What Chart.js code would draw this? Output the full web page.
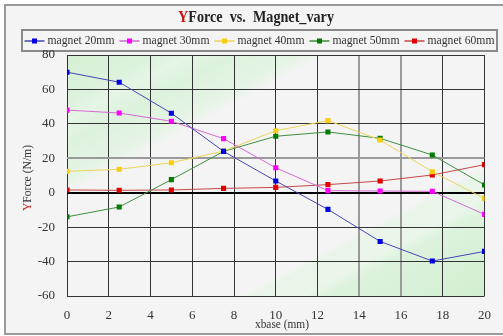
<!DOCTYPE html>
<html>
<head>
<meta charset="utf-8">
<script src="https://cdn.jsdelivr.net/npm/chart.js@4"></script>
<style>
  html, body { margin: 0; padding: 0; background: #fff; }
  #wrap { position: relative; width: 503px; height: 336px; }
</style>
</head>
<body>
<div id="wrap"><canvas id="chart" width="503" height="336"></canvas></div>
<script>
const xbase = [0, 2.5, 5, 7.5, 10, 12.5, 15, 17.5, 20]
const seriesNames = ['magnet 20mm', 'magnet 30mm', 'magnet 40mm', 'magnet 50mm', 'magnet 60mm']
const mag20 = [70, 64.2, 46.2, 24, 6.8, -9.7, -28.3, -39.7, -34.1]
const mag30 = [48, 46.3, 41.5, 31.4, 14.5, 1.2, 1, 0.8, -12.6]
const mag40 = [12.4, 13.6, 17.4, 24.2, 36, 41.9, 30.6, 12.2, -3.3]
const mag50 = [-14, -8.3, 7.6, 24, 32.8, 35.3, 31.6, 21.9, 4.5]
const mag60 = [1.6, 1.4, 1.6, 2.5, 3.1, 4.7, 6.8, 10.3, 16.3]
const xTicks = [0, 2, 4, 6, 8, 10, 12, 14, 16, 18, 20]
const yTicks = [-60, -40, -20, 0, 20, 40, 60, 80]

const lineColors = ['#4646b4', '#d46ad4', '#ecd45a', '#3f8f3f', '#c44848']
const pointColors = ['#0000e0', '#ff00ff', '#f8cc10', '#007a00', '#e00000']
const allSeries = [mag20, mag30, mag40, mag50, mag60]

const serif = '"Liberation Serif", "DejaVu Serif", serif'

const datasets = allSeries.map((vals, i) => ({
  label: seriesNames[i],
  data: vals.map((v, j) => ({ x: xbase[j], y: v })),
  borderColor: lineColors[i],
  backgroundColor: pointColors[i],
  pointBackgroundColor: pointColors[i],
  pointBorderColor: pointColors[i],
  borderWidth: 1,
  pointStyle: 'rect',
  pointRadius: 3.6,
  pointBorderWidth: 0,
  tension: 0
}))

// draw text pieces (each with its colour) squeezed to a target width, starting at x
function squeezed(ctx, parts, x, y, target) {
  const full = parts.map(p => p[0]).join('')
  const sx = target / ctx.measureText(full).width
  ctx.save()
  ctx.translate(x, y)
  ctx.scale(sx, 1)
  ctx.textAlign = 'left'
  let off = 0
  parts.forEach(p => {
    ctx.fillStyle = p[1]
    ctx.fillText(p[0], off, 0)
    off += ctx.measureText(p[0]).width
  })
  ctx.restore()
}

// frame, title, legend and axis titles drawn by hand
const decor = {
  id: 'decor',
  beforeDraw(chart) {
    const ctx = chart.ctx
    const a = chart.chartArea
    ctx.save()
    ctx.fillStyle = '#fff'
    ctx.fillRect(0, 0, 503, 336)
    ctx.fillStyle = '#f4f4f4'
    ctx.fillRect(5, 5, 500, 329)
    ctx.strokeStyle = '#9a9a9a'
    ctx.lineWidth = 2
    ctx.strokeRect(5, 5, 500, 329)

    // diagonal green shading in the plot area
    const ux = 0.47, uy = 0.88
    const p0 = a.left * ux + a.top * uy
    const p1 = a.right * ux + a.bottom * uy
    const k = 1 / (ux * ux + uy * uy)
    const g = ctx.createLinearGradient(ux * p0 * k, uy * p0 * k, ux * p1 * k, uy * p1 * k)
    g.addColorStop(0, '#d4f0d4')
    g.addColorStop(0.1, '#dcf2dc')
    g.addColorStop(0.14, '#e6f5e6')
    g.addColorStop(0.19, '#dcf2dc')
    g.addColorStop(0.27, '#e6f4e6')
    g.addColorStop(0.3, '#f4f4f4')
    g.addColorStop(0.72, '#f4f4f4')
    g.addColorStop(0.735, '#e8f5e8')
    g.addColorStop(0.79, '#eaf6ea')
    g.addColorStop(0.82, '#dcf2dc')
    g.addColorStop(1, '#d2efd2')
    ctx.fillStyle = g
    ctx.fillRect(a.left, a.top, a.right - a.left, a.bottom - a.top)

    ctx.textBaseline = 'middle'

    // title
    ctx.font = 'bold 16px ' + serif
    squeezed(ctx, [['Y', '#cc1111'], ['Force  vs.  Magnet_vary', '#222']], 178, 18, 156)

    // legend box
    ctx.strokeStyle = '#8a8a8a'
    ctx.lineWidth = 2
    ctx.strokeRect(22, 30, 475, 21)
    ctx.font = '13px ' + serif
    const mark = 20, gap = 3, textW = 67, itemGap = 5
    const total = seriesNames.length * (mark + gap + textW) + itemGap * (seriesNames.length - 1)
    let lx = 259.5 - total / 2
    seriesNames.forEach((n, i) => {
      ctx.strokeStyle = lineColors[i]
      ctx.lineWidth = 1.5
      ctx.beginPath()
      ctx.moveTo(lx, 41)
      ctx.lineTo(lx + mark, 41)
      ctx.stroke()
      ctx.fillStyle = pointColors[i]
      ctx.fillRect(lx + mark / 2 - 2.5, 38.5, 5, 5)
      squeezed(ctx, [[n, '#333']], lx + mark + gap, 41, textW)
      lx += mark + gap + textW + itemGap
    })

    // y axis title
    ctx.save()
    ctx.translate(28, 178)
    ctx.rotate(-Math.PI / 2)
    ctx.font = '13px ' + serif
    squeezed(ctx, [['Y', '#cc1111'], ['Force (N/m)', '#333']], -33, 0, 66)
    ctx.restore()

    // x axis title
    ctx.font = '13px ' + serif
    squeezed(ctx, [['xbase (mm)', '#333']], 255, 325, 54)
    ctx.restore()
  }
}

const ctx = document.getElementById('chart').getContext('2d')
const myChart = new Chart(ctx, {
  type: 'line',
  data: { datasets: datasets },
  options: {
    responsive: false,
    animation: false,
    layout: { padding: { top: 55, right: 6, left: 0, bottom: 0 } },
    plugins: {
      legend: { display: false },
      title: { display: false },
      tooltip: { enabled: false }
    },
    scales: {
      x: {
        type: 'linear',
        min: 0,
        max: 20,
        afterBuildTicks: scale => { scale.ticks = xTicks.map(v => ({ value: v })) },
        afterFit: scale => { scale.height = 40 },
        border: { display: false },
        grid: {
          color: c => (c.tick.value === 14 || c.tick.value === 16) ? '#9a9a9a' : '#333',
          lineWidth: c => (c.tick.value === 14 || c.tick.value === 16) ? 2 : 1,
          drawTicks: false
        },
        ticks: {
          padding: 12,
          color: '#333',
          font: { family: serif, size: 13 }
        }
      },
      y: {
        min: -60,
        max: 80,
        afterBuildTicks: scale => { scale.ticks = yTicks.map(v => ({ value: v })) },
        afterFit: scale => { scale.width = 67 },
        border: { display: false },
        grid: {
          color: c => c.tick.value === 0 ? '#000' : (c.tick.value === 20 ? '#9a9a9a' : '#333'),
          lineWidth: c => (c.tick.value === 0 || c.tick.value === 20) ? 2 : 1,
          drawTicks: false
        },
        ticks: {
          padding: 12,
          color: '#333',
          font: { family: serif, size: 13 }
        }
      }
    }
  },
  plugins: [decor]
})
</script>
</body>
</html>
